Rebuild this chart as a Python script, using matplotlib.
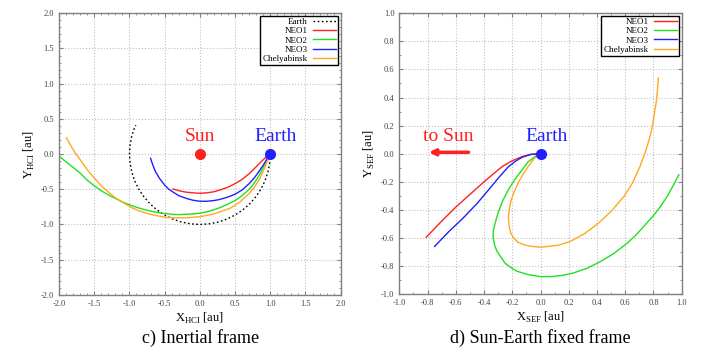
import matplotlib.pyplot as plt
from matplotlib.ticker import MultipleLocator

plt.rcParams['font.family'] = ['Liberation Serif', 'DejaVu Serif']
plt.rcParams['mathtext.fontset'] = 'custom'
plt.rcParams['mathtext.rm'] = 'Liberation Serif'
plt.rcParams['axes.unicode_minus'] = False

# c) inertial frame (heliocentric)
earth_x = [1.0, 0.991, 0.966, 0.924, 0.866, 0.793, 0.707, 0.609, 0.5, 0.383, 0.259, 0.131, 0.0,
           -0.131, -0.259, -0.383, -0.5, -0.609, -0.707, -0.793, -0.866, -0.924, -0.966, -0.991,
           -1.0, -0.991, -0.966, -0.940, -0.910]
earth_y = [0.0, -0.131, -0.259, -0.383, -0.5, -0.609, -0.707, -0.793, -0.866, -0.924, -0.966, -0.991, -1.0,
           -0.991, -0.966, -0.924, -0.866, -0.793, -0.707, -0.609, -0.5, -0.383, -0.259, -0.131,
           0.0, 0.131, 0.259, 0.34, 0.41]

neo1_x = [-0.38, -0.3, -0.2, -0.1, 0.0, 0.1, 0.2, 0.3, 0.4, 0.5, 0.6, 0.7, 0.77, 0.84, 0.9, 0.95, 1.0]
neo1_y = [-0.495, -0.52, -0.54, -0.55, -0.557, -0.55, -0.535, -0.505, -0.47, -0.42, -0.36, -0.28,
          -0.21, -0.14, -0.08, -0.035, 0.0]

neo2_x = [-2.0, -1.9, -1.8, -1.7, -1.6, -1.5, -1.4, -1.3, -1.2, -1.1, -1.0, -0.9, -0.8, -0.7, -0.6,
          -0.5, -0.4, -0.3, -0.2, -0.1, 0.0, 0.1, 0.2, 0.3, 0.4, 0.5, 0.6, 0.7, 0.76, 0.82, 0.87,
          0.91, 0.95, 0.98, 1.0]
neo2_y = [-0.03, -0.11, -0.19, -0.27, -0.37, -0.45, -0.52, -0.58, -0.63, -0.68, -0.72, -0.755, -0.785,
          -0.81, -0.83, -0.845, -0.855, -0.86, -0.855, -0.85, -0.84, -0.82, -0.79, -0.755, -0.71,
          -0.66, -0.59, -0.50, -0.43, -0.34, -0.25, -0.17, -0.09, -0.04, 0.0]

neo3_x = [-0.70, -0.67, -0.63, -0.57, -0.5, -0.44, -0.38, -0.3, -0.19, -0.1, 0.0, 0.1, 0.2, 0.28, 0.4,
          0.5, 0.6, 0.7, 0.78, 0.85, 0.91, 0.96, 1.0]
neo3_y = [-0.06, -0.15, -0.25, -0.35, -0.44, -0.50, -0.54, -0.59, -0.63, -0.655, -0.67, -0.67, -0.66,
          -0.645, -0.61, -0.57, -0.51, -0.42, -0.33, -0.23, -0.14, -0.06, 0.0]

chel_x = [-1.895, -1.85, -1.78, -1.7, -1.63, -1.56, -1.49, -1.4, -1.3, -1.2, -1.07, -0.98, -0.88, -0.76,
          -0.64, -0.5, -0.38, -0.2, 0.0, 0.2, 0.43, 0.57, 0.7, 0.78, 0.85, 0.91, 0.96, 1.0]
chel_y = [0.23, 0.15, 0.03, -0.08, -0.18, -0.27, -0.35, -0.45, -0.54, -0.62, -0.70, -0.755, -0.80, -0.84,
          -0.87, -0.895, -0.905, -0.905, -0.89, -0.85, -0.77, -0.68, -0.56, -0.46, -0.35, -0.22, -0.10, 0.0]

# d) Sun-Earth fixed frame
sef1_x = [-0.81, -0.7, -0.6, -0.5, -0.4, -0.33, -0.27, -0.2, -0.13, -0.07, 0.0]
sef1_y = [-0.595, -0.48, -0.38, -0.29, -0.20, -0.14, -0.09, -0.05, -0.02, -0.005, 0.0]

sef2_x = [0.0, -0.04, -0.09, -0.13, -0.18, -0.23, -0.27, -0.30, -0.32, -0.335, -0.335, -0.325, -0.31, -0.285,
          -0.25, -0.21, -0.17, -0.09, 0.0, 0.08, 0.16, 0.23, 0.33, 0.42, 0.52, 0.61, 0.67, 0.72, 0.76, 0.80,
          0.85, 0.9, 0.94, 0.98]
sef2_y = [0.0, -0.02, -0.06, -0.115, -0.18, -0.26, -0.34, -0.42, -0.49, -0.55, -0.60, -0.65, -0.69, -0.73,
          -0.78, -0.81, -0.835, -0.86, -0.875, -0.875, -0.865, -0.85, -0.815, -0.77, -0.71, -0.64, -0.585,
          -0.53, -0.485, -0.44, -0.375, -0.30, -0.225, -0.15]

sef3_x = [-0.75, -0.65, -0.55, -0.45, -0.37, -0.3, -0.23, -0.18, -0.13, -0.07, 0.0]
sef3_y = [-0.66, -0.555, -0.46, -0.355, -0.26, -0.175, -0.095, -0.055, -0.025, -0.005, 0.0]

sefc_x = [0.0, -0.04, -0.08, -0.12, -0.16, -0.19, -0.21, -0.222, -0.227, -0.222, -0.21, -0.19, -0.16, -0.11,
          -0.06, 0.0, 0.055, 0.13, 0.21, 0.31, 0.41, 0.5, 0.59, 0.65, 0.705, 0.745, 0.775, 0.795, 0.81,
          0.82, 0.828, 0.835]
sefc_y = [0.0, -0.03, -0.08, -0.14, -0.21, -0.28, -0.34, -0.40, -0.46, -0.52, -0.565, -0.60, -0.63, -0.65,
          -0.66, -0.665, -0.66, -0.65, -0.625, -0.57, -0.495, -0.41, -0.305, -0.21, -0.09, 0.02, 0.12,
          0.21, 0.31, 0.37, 0.45, 0.54]

RED = '#ff2020'
GREEN = '#20e020'
BLUE = '#2020ff'
ORANGE = '#ffa820'

fig = plt.figure(figsize=(7.01, 3.49), dpi=100)
ax1 = fig.add_axes([0.0842, 0.155, 0.4018, 0.807])
ax2 = fig.add_axes([0.5696, 0.157, 0.4029, 0.805])


def style(ax, lim, major, minor):
    ax.set_xlim(-lim, lim)
    ax.set_ylim(-lim, lim)
    ax.xaxis.set_major_locator(MultipleLocator(major))
    ax.yaxis.set_major_locator(MultipleLocator(major))
    ax.xaxis.set_minor_locator(MultipleLocator(minor))
    ax.yaxis.set_minor_locator(MultipleLocator(minor))
    ax.tick_params(which='both', direction='in', top=True, right=True, color='#808080',
                   labelsize=6, labelcolor='#404040')
    ax.tick_params(which='major', length=3)
    ax.tick_params(which='minor', length=1.5)
    ax.grid(True, which='major', linestyle=':', color='#c0c0c0', linewidth=0.8)
    for s in ax.spines.values():
        s.set_color('#808080')
        s.set_linewidth(1.0)


style(ax1, 2.0, 0.5, 0.1)
style(ax2, 1.0, 0.2, 0.1)

ax1.plot(earth_x, earth_y, color='black', linestyle=(0, (1.2, 1.8)), lw=1.0, label='Earth')
ax1.plot(neo1_x, neo1_y, color=RED, lw=1.0, label='NEO1')
ax1.plot(neo2_x, neo2_y, color=GREEN, lw=1.0, label='NEO2')
ax1.plot(neo3_x, neo3_y, color=BLUE, lw=1.0, label='NEO3')
ax1.plot(chel_x, chel_y, color=ORANGE, lw=1.0, label='Chelyabinsk')
ax1.plot([0], [0], 'o', color=RED, ms=7)
ax1.plot([1], [0], 'o', color=BLUE, ms=7)
ax1.text(0.0, 0.25, 'Sun', color=RED, fontsize=14, ha='center', va='center')
ax1.text(1.07, 0.25, 'Earth', color=BLUE, fontsize=14, ha='center', va='center')
ax1.legend(loc='upper right', markerfirst=False, fontsize=6.5, frameon=True, fancybox=False,
           edgecolor='black', framealpha=1, borderaxespad=0.3, handlelength=2.6,
           labelspacing=0.1, borderpad=0.2, handletextpad=0.6)
ax1.set_xlabel(r'X$_{\rm HCI}$ [au]', fontsize=9, labelpad=2)
ax1.set_ylabel(r'Y$_{\rm HCI}$ [au]', fontsize=9, labelpad=3)

ax2.plot(sef1_x, sef1_y, color=RED, lw=1.0, label='NEO1')
ax2.plot(sef2_x, sef2_y, color=GREEN, lw=1.0, label='NEO2')
ax2.plot(sef3_x, sef3_y, color=BLUE, lw=1.0, label='NEO3')
ax2.plot(sefc_x, sefc_y, color=ORANGE, lw=1.0, label='Chelyabinsk')
ax2.plot([0], [0], 'o', color=BLUE, ms=7)
ax2.text(0.04, 0.12, 'Earth', color=BLUE, fontsize=14, ha='center', va='center')
ax2.text(-0.65, 0.12, 'to Sun', color=RED, fontsize=14, ha='center', va='center')
ax2.annotate('', xy=(-0.81, 0.01), xytext=(-0.49, 0.01),
             arrowprops=dict(arrowstyle='-|>', color=RED, lw=2.5, mutation_scale=9))
ax2.legend(loc='upper right', markerfirst=False, fontsize=6.5, frameon=True, fancybox=False,
           edgecolor='black', framealpha=1, borderaxespad=0.3, handlelength=2.6,
           labelspacing=0.1, borderpad=0.2, handletextpad=0.6)
ax2.set_xlabel(r'X$_{\rm SEF}$ [au]', fontsize=9, labelpad=2)
ax2.set_ylabel(r'Y$_{\rm SEF}$ [au]', fontsize=9, labelpad=3)

fig.text(0.2857, 0.018, 'c) Inertial frame', fontsize=13, ha='center')
fig.text(0.771, 0.018, 'd) Sun-Earth fixed frame', fontsize=13, ha='center')

fig.savefig('out.png', dpi=100)
